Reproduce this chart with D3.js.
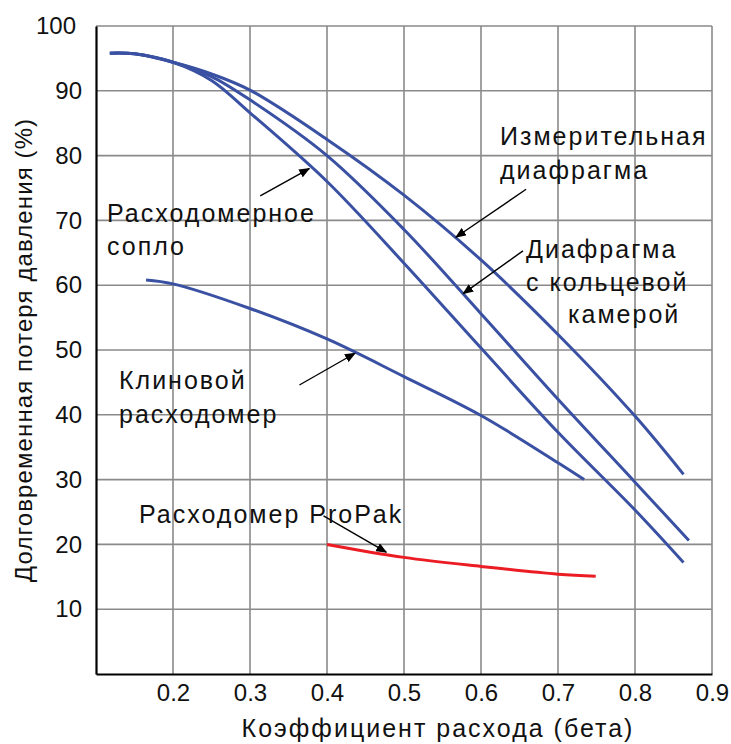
<!DOCTYPE html>
<html lang="ru">
<head>
<meta charset="utf-8">
<script src="https://cdn.jsdelivr.net/npm/d3@7"></script>
<style>
  body { margin: 0; background: #fff; }
  svg { font-family: "Liberation Sans", Arial, sans-serif; display: block; }
  .axis text { font-size: 24px; fill: #111; }
  .note, .x-title { font-size: 25px; letter-spacing: 2px; fill: #111; }
  .y-title { font-size: 24px; letter-spacing: 1.1px; fill: #111; }
  .grid line { stroke: #8a8a8a; stroke-width: 1.6; }
</style>
</head>
<body>
<svg id="chart"></svg>
<script>
// tick values
const xTicks = [0.2, 0.3, 0.4, 0.5, 0.6, 0.7, 0.8, 0.9];
const yTicks = [10, 20, 30, 40, 50, 60, 70, 80, 90, 100];

// [beta, permanent pressure loss %]
const measuringOrifice = [[0.118, 95.8], [0.15, 95.7], [0.2, 94.4], [0.25, 92.6], [0.3, 90.1],
  [0.4, 82.5], [0.5, 73.9], [0.6, 63.9], [0.7, 52.4], [0.8, 39.8], [0.863, 30.8]];
const annularOrifice = [[0.118, 95.8], [0.15, 95.7], [0.2, 94.4], [0.25, 92.2], [0.3, 88.6],
  [0.4, 80.0], [0.5, 68.6], [0.6, 55.6], [0.7, 42.4], [0.8, 29.6], [0.87, 20.6]];
const flowNozzle = [[0.118, 95.8], [0.15, 95.7], [0.2, 94.4], [0.25, 91.6], [0.3, 86.6],
  [0.4, 76.0], [0.5, 63.4], [0.6, 50.3], [0.7, 37.3], [0.8, 25.3], [0.863, 17.2]];
const wedgeMeter = [[0.165, 60.8], [0.2, 60.2], [0.3, 56.4], [0.4, 51.7], [0.5, 45.9],
  [0.6, 39.9], [0.7, 32.6], [0.734, 30.0]];
const proPak = [[0.4, 20.0], [0.5, 18.0], [0.6, 16.6], [0.7, 15.4], [0.749, 15.1]];

const seriesList = [
  { name: 'orifice', points: measuringOrifice, color: '#3a51a3' },
  { name: 'annular', points: annularOrifice, color: '#3a51a3' },
  { name: 'nozzle', points: flowNozzle, color: '#3a51a3' },
  { name: 'wedge', points: wedgeMeter, color: '#3a51a3' },
  { name: 'propak', points: proPak, color: '#ec1c24' },
];

class LossChart {
  constructor(_config) {
    this.config = {
      parentElement: _config.parentElement,
      containerWidth: 731,
      containerHeight: 744,
      margin: { top: 26, right: 19, bottom: 70, left: 96 },
    };
    this.initVis();
  }

  initVis() {
    const vis = this;
    vis.width = vis.config.containerWidth - vis.config.margin.left - vis.config.margin.right;
    vis.height = vis.config.containerHeight - vis.config.margin.top - vis.config.margin.bottom;

    vis.xScale = d3.scaleLinear().domain([0.1, 0.9]).range([0, vis.width]);
    vis.yScale = d3.scaleLinear().domain([0, 100]).range([vis.height, 0]);

    vis.svg = d3.select(vis.config.parentElement)
      .attr('width', vis.config.containerWidth)
      .attr('height', vis.config.containerHeight);

    vis.svg.append('defs').append('marker')
      .attr('id', 'arrow')
      .attr('markerUnits', 'userSpaceOnUse')
      .attr('markerWidth', 11)
      .attr('markerHeight', 9)
      .attr('refX', 10)
      .attr('refY', 4.5)
      .attr('orient', 'auto')
      .append('path')
      .attr('d', 'M0,0 L11,4.5 L0,9 Z')
      .attr('fill', '#000');

    vis.chart = vis.svg.append('g')
      .attr('transform', `translate(${vis.config.margin.left},${vis.config.margin.top})`);

    // grid
    const grid = vis.chart.append('g').attr('class', 'grid');
    grid.selectAll('.vline').data(xTicks).join('line')
      .attr('class', 'vline')
      .attr('x1', (d) => vis.xScale(d)).attr('x2', (d) => vis.xScale(d))
      .attr('y1', 0).attr('y2', vis.height);
    grid.selectAll('.hline').data(yTicks).join('line')
      .attr('class', 'hline')
      .attr('x1', 0).attr('x2', vis.width)
      .attr('y1', (d) => vis.yScale(d)).attr('y2', (d) => vis.yScale(d));

    vis.xAxis = d3.axisBottom(vis.xScale)
      .tickValues(xTicks)
      .tickSize(0)
      .tickPadding(10)
      .tickFormat(d3.format('.1f'));
    vis.yAxis = d3.axisLeft(vis.yScale)
      .tickValues(yTicks)
      .tickSize(0)
      .tickPadding(14);

    vis.xAxisG = vis.chart.append('g')
      .attr('class', 'axis x-axis')
      .attr('transform', `translate(0,${vis.height})`);
    vis.yAxisG = vis.chart.append('g')
      .attr('class', 'axis y-axis');

    vis.line = d3.line()
      .x((d) => vis.xScale(d[0]))
      .y((d) => vis.yScale(d[1]))
      .curve(d3.curveCatmullRom.alpha(0.5));

    vis.renderVis();
    vis.insertText();
  }

  renderVis() {
    const vis = this;

    vis.chart.selectAll('.curve')
      .data(seriesList)
      .join('path')
      .attr('class', (d) => `curve curve-${d.name}`)
      .attr('d', (d) => vis.line(d.points))
      .attr('fill', 'none')
      .attr('stroke', (d) => d.color)
      .attr('stroke-width', 3);

    vis.xAxisG.call(vis.xAxis);
    vis.yAxisG.call(vis.yAxis);
    vis.chart.selectAll('.axis .domain')
      .attr('stroke', '#000')
      .attr('stroke-width', 2.2);
    vis.chart.selectAll('.axis text').attr('font-family', null).attr('font-size', null);
    // the "100" label sits a little further left in the original
    vis.yAxisG.selectAll('.tick text').filter((d) => d === 100).attr('dx', -6);
  }

  insertText() {
    const vis = this;
    const m = vis.config.margin;

    // arrows from labels to curves, ends given in chart units
    const arrows = [
      [[0.3133, 73.8], [0.377, 78.0]],
      [[0.6586, 74.8], [0.5674, 67.4]],
      [[0.6545, 65.3], [0.5768, 58.7]],
      [[0.3642, 44.6], [0.4364, 49.5]],
      [[0.3955, 24.4], [0.477, 18.8]],
    ];
    vis.chart.selectAll('.pointer')
      .data(arrows)
      .join('line')
      .attr('class', 'pointer')
      .attr('x1', (d) => vis.xScale(d[0][0]))
      .attr('y1', (d) => vis.yScale(d[0][1]))
      .attr('x2', (d) => vis.xScale(d[1][0]))
      .attr('y2', (d) => vis.yScale(d[1][1]))
      .attr('stroke', '#000')
      .attr('stroke-width', 1.4)
      .attr('marker-end', 'url(#arrow)');

    const notes = [
      { text: 'Измерительная', x: 500, y: 145 },
      { text: 'диафрагма', x: 500, y: 179 },
      { text: 'Диафрагма', x: 526, y: 258 },
      { text: 'с кольцевой', x: 526, y: 291 },
      { text: 'камерой', x: 568, y: 323 },
      { text: 'Расходомерное', x: 107, y: 222 },
      { text: 'сопло', x: 107, y: 255 },
      { text: 'Клиновой', x: 119, y: 389 },
      { text: 'расходомер', x: 119, y: 423 },
      { text: 'Расходомер ProPak', x: 139, y: 523 },
    ];
    vis.svg.selectAll('.note')
      .data(notes)
      .join('text')
      .attr('class', 'note')
      .attr('x', (d) => d.x)
      .attr('y', (d) => d.y)
      .text((d) => d.text);

    // x-axis title
    vis.svg.append('text')
      .attr('class', 'x-title')
      .attr('text-anchor', 'middle')
      .attr('x', 438)
      .attr('y', 737)
      .text('Коэффициент расхода (бета)');

    // y-axis title
    vis.svg.append('text')
      .attr('class', 'y-title')
      .attr('text-anchor', 'middle')
      .attr('transform', `translate(32, ${m.top + vis.height / 2}) rotate(-90)`)
      .text('Долговременная потеря давления (%)');
  }
}

new LossChart({ parentElement: '#chart' });
</script>
</body>
</html>
